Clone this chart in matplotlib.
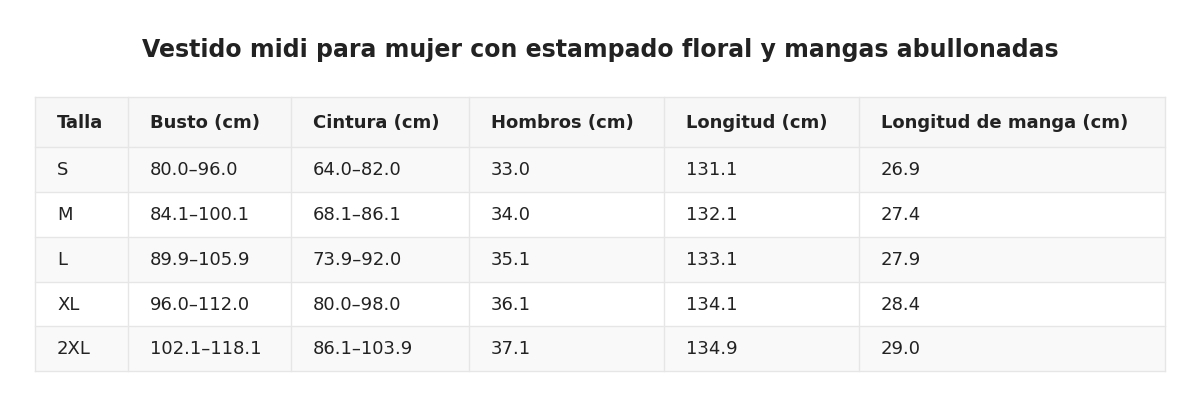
import matplotlib
matplotlib.use("Agg")
import matplotlib.pyplot as plt
from matplotlib.patches import Rectangle

title = "Vestido midi para mujer con estampado floral y mangas abullonadas"
headers = ["Talla", "Busto (cm)", "Cintura (cm)", "Hombros (cm)", "Longitud (cm)", "Longitud de manga (cm)"]
sizes = ["S", "M", "L", "XL", "2XL"]
busto = ["80.0–96.0", "84.1–100.1", "89.9–105.9", "96.0–112.0", "102.1–118.1"]
cintura = ["64.0–82.0", "68.1–86.1", "73.9–92.0", "80.0–98.0", "86.1–103.9"]
hombros = ["33.0", "34.0", "35.1", "36.1", "37.1"]
longitud = ["131.1", "132.1", "133.1", "134.1", "134.9"]
manga = ["26.9", "27.4", "27.9", "28.4", "29.0"]

W, H = 1200, 406
fig = plt.figure(figsize=(W/100, H/100), dpi=100)
ax = fig.add_axes([0, 0, 1, 1])
ax.set_xlim(0, W); ax.set_ylim(H, 0); ax.axis("off")

cols = [35, 128, 291, 469, 664, 859, 1165]
row_y = [98, 148, 193, 238, 283, 327, 372]
line = "#e6e6e6"
txt = "#222222"

ax.text(W/2, 50, title, ha="center", va="center", fontsize=17, fontweight="bold", color=txt)

rows = [headers] + [list(r) for r in zip(sizes, busto, cintura, hombros, longitud, manga)]
for i, r in enumerate(rows):
    y0, y1 = row_y[i], row_y[i+1]
    bg = "#f7f7f7" if i == 0 else ("#f9f9f9" if i % 2 == 1 else "white")
    ax.add_patch(Rectangle((cols[0], y0), cols[-1]-cols[0], y1-y0, facecolor=bg, edgecolor="none"))
    for j, val in enumerate(r):
        ax.text(cols[j] + 22, (y0+y1)/2, val, ha="left", va="center", fontsize=13,
                fontweight="bold" if i == 0 else "normal", color=txt)
for y in row_y:
    ax.plot([cols[0], cols[-1]], [y, y], color=line, lw=1)
for x in cols:
    ax.plot([x, x], [row_y[0], row_y[-1]], color=line, lw=1)

fig.savefig("out.png", dpi=100, facecolor="white")
